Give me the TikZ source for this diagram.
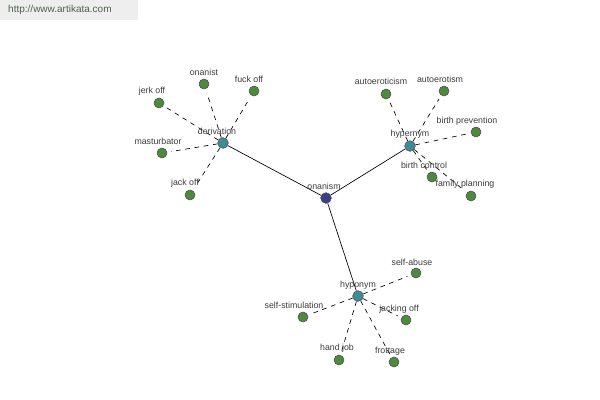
\documentclass[tikz,border=0pt]{standalone}
\usepackage{fontspec}
\setmainfont{Liberation Sans}
\usetikzlibrary{backgrounds}
\definecolor{leaf}{RGB}{78,138,62}
\definecolor{hub}{RGB}{62,140,150}
\definecolor{root}{RGB}{58,62,140}
\definecolor{lblc}{RGB}{60,60,60}
\definecolor{urlbg}{RGB}{238,238,238}
\definecolor{urlfg}{RGB}{80,95,80}
\begin{document}
\begin{tikzpicture}[x=0.75pt,y=-0.75pt,
  leafnode/.style={circle,fill=leaf,draw=black!70,line width=0.4pt,minimum size=7.5pt,inner sep=0pt},
  hubnode/.style={circle,fill=hub,draw=black!70,line width=0.4pt,minimum size=8pt,inner sep=0pt},
  rootnode/.style={circle,fill=root,draw=black!70,line width=0.4pt,minimum size=8pt,inner sep=0pt},
  lbl/.style={font=\fontsize{6.6pt}{7pt}\selectfont,text=lblc,inner sep=0pt},
  solidlink/.style={draw=black,line width=0.5pt},
  dashlink/.style={draw=black,line width=0.5pt,dash pattern=on 3.5pt off 3.5pt,shorten >=3pt}]
\useasboundingbox (0,0) rectangle (600,400);
\node[fill=urlbg,minimum width=103.5pt,minimum height=15pt,inner sep=0pt,anchor=north west,
  font=\fontsize{7.5pt}{9pt}\selectfont,text=urlfg] (url) at (0,0) {\hspace*{-14pt}http://www.artikata.com};
% nodes
\node[rootnode] (on) at (326,198) {};
\node[hubnode] (der) at (223,143) {};
\node[hubnode] (hyper) at (410,146) {};
\node[hubnode] (hypo) at (358,296) {};
\node[leafnode] (jerk) at (159,103) {};
\node[leafnode] (onanist) at (204,84) {};
\node[leafnode] (fuck) at (254,91) {};
\node[leafnode] (mast) at (162,153) {};
\node[leafnode] (jack) at (190,195) {};
\node[leafnode] (aeism) at (386,94) {};
\node[leafnode] (aeis) at (444,91) {};
\node[leafnode] (bprev) at (476,132) {};
\node[leafnode] (bctrl) at (432,177) {};
\node[leafnode] (fplan) at (471,196) {};
\node[leafnode] (sabuse) at (416,273) {};
\node[leafnode] (sstim) at (303,317) {};
\node[leafnode] (jacking) at (406,320) {};
\node[leafnode] (hand) at (339,360) {};
\node[leafnode] (frot) at (394,362) {};
% links
\begin{pgfonlayer}{background}
\fill[white] (0,0) rectangle (600,400);
\draw[solidlink] (on) -- (der);
\draw[solidlink] (on) -- (hyper);
\draw[solidlink] (on) -- (hypo);
\foreach \t in {jerk,onanist,fuck,mast,jack}
  \draw[dashlink] (der) -- (\t);
\foreach \t in {aeism,aeis,bprev,bctrl,fplan}
  \draw[dashlink] (hyper) -- (\t);
\foreach \t in {sabuse,sstim,jacking,hand,frot}
  \draw[dashlink] (hypo) -- (\t);
\end{pgfonlayer}
% labels
\node[lbl] (lon) at (324,186) {onanism};
\node[lbl] (lder) at (217,131) {derivation};
\node[lbl] (lhyper) at (410,134) {hypernym};
\node[lbl] (lhypo) at (358,285) {hyponym};
\node[lbl] (ljerk) at (152,91) {jerk off};
\node[lbl] (lonanist) at (204,72) {onanist};
\node[lbl] (lfuck) at (249,79) {fuck off};
\node[lbl] (lmast) at (158,141) {masturbator};
\node[lbl] (ljack) at (185,183) {jack off};
\node[lbl] (laeism) at (381,81) {autoeroticism};
\node[lbl] (laeis) at (440,79) {autoerotism};
\node[lbl] (lbprev) at (467,121) {birth prevention};
\node[lbl] (lbctrl) at (424,165) {birth control};
\node[lbl] (lfplan) at (465,184) {family planning};
\node[lbl] (lsabuse) at (412,262) {self-abuse};
\node[lbl] (lsstim) at (294,305) {self-stimulation};
\node[lbl] (ljacking) at (399,309) {jacking off};
\node[lbl] (lhand) at (337,348) {hand job};
\node[lbl] (lfrot) at (390,351) {frottage};
\end{tikzpicture}
\end{document}
